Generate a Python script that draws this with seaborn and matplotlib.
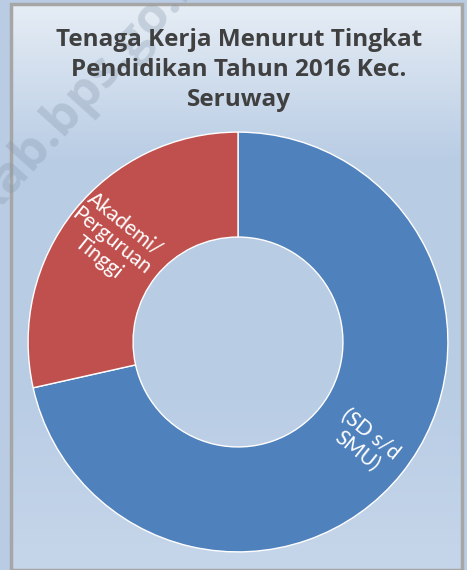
import numpy as np
import matplotlib.pyplot as plt
import seaborn as sns
from matplotlib.patches import Rectangle
from matplotlib.colors import LinearSegmentedColormap

categories = ['(SD s/d\nSMU)', 'Akademi/\nPerguruan\nTinggi']
shares = [71.5, 28.5]
title = 'Tenaga Kerja Menurut Tingkat\nPendidikan Tahun 2016 Kec.\nSeruway'

sns.set_style('white')
plt.rcParams['font.family'] = ['Lato', 'DejaVu Sans']
palette = sns.color_palette(['#4F81BD', '#C0504D'])

W, H = 467, 570
fig = plt.figure(figsize=(W / 100, H / 100), dpi=100)
fig.patch.set_facecolor('#b9cce4')

# chart area with vertical gradient
bg = fig.add_axes([11 / W, 0, (462 - 11) / W, (H - 4) / H])
grad = LinearSegmentedColormap.from_list(
    'bg', [(0, '#e6edf5'), (0.28, '#b8cce4'), (0.7, '#b9cde5'), (1, '#c6d6ea')])
bg.imshow(np.linspace(0, 1, 256)[:, None], aspect='auto', cmap=grad,
          extent=[0, 1, 0, 1], origin='upper')
bg.add_patch(Rectangle((0, 0), 1, 1, transform=bg.transAxes, fill=False,
                       edgecolor='#a6a6a6', lw=2.5, clip_on=False))
bg.set_axis_off()

# watermark
fig.text(-12 / W, 1 - 218 / H, 'kab.bps.go.id', rotation=48, rotation_mode='anchor',
         ha='left', va='baseline', fontsize=37, fontweight='bold',
         family='Open Sans', color='#8597ab', alpha=0.32)

# donut
cx, cy, r = 238, 342, 212
ax = fig.add_axes([(cx - r) / W, (H - cy - r) / H, 2 * r / W, 2 * r / H])
wedges, texts = ax.pie(shares, labels=categories, colors=palette, startangle=90,
                       counterclock=False, radius=1, labeldistance=0.77,
                       rotatelabels=True,
                       wedgeprops=dict(width=0.5, edgecolor='white', linewidth=1))
for t in texts:
    t.set_ha('center')
    t.set_va('center')
    t.set_multialignment('center')
    t.set_color('white')
    t.set_fontsize(15)
    t.set_linespacing(1.1)
ax.set_xlim(-1.01, 1.01)
ax.set_ylim(-1.01, 1.01)
ax.set_axis_off()

fig.text(239 / W, 1 - 70 / H, title, ha='center', va='center', fontsize=17.5,
         fontweight='bold', family='Open Sans', color='#404040', linespacing=1.32)

fig.savefig('out.png', dpi=100)
